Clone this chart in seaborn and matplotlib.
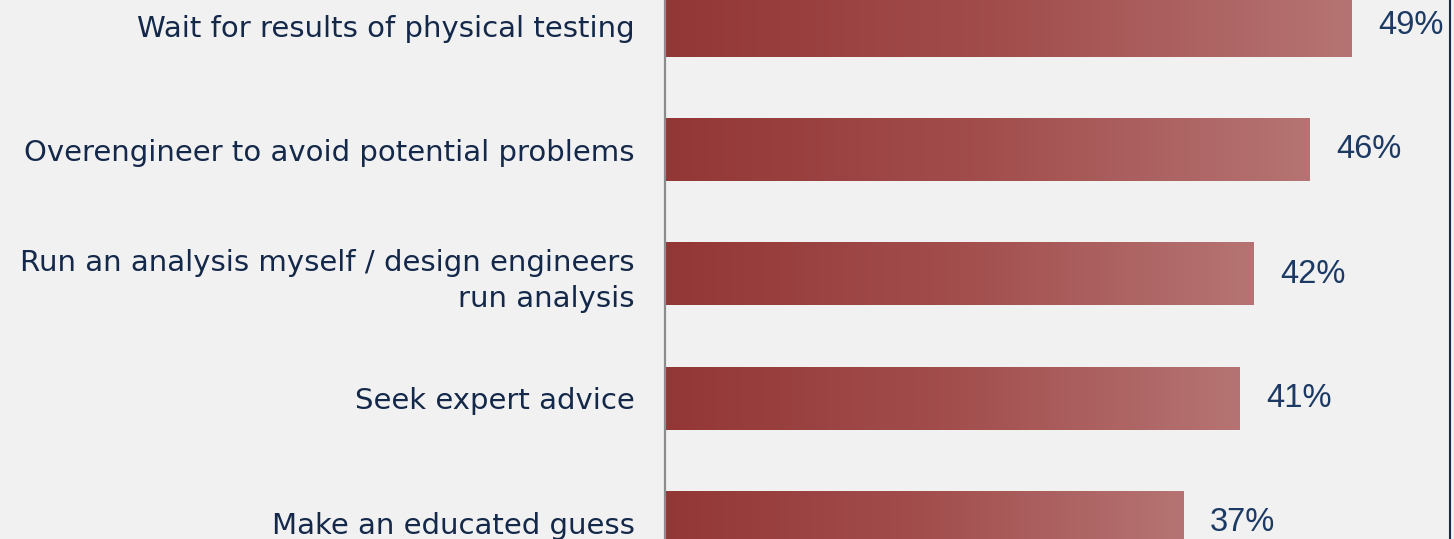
import numpy as np
import pandas as pd
import seaborn as sns
import matplotlib.pyplot as plt
from matplotlib.colors import LinearSegmentedColormap
from matplotlib.lines import Line2D

categories = [
    "Wait for results of physical testing",
    "Overengineer to avoid potential problems",
    "Run an analysis myself / design engineers\nrun analysis",
    "Seek expert advice",
    "Make an educated guess",
]
values = [49, 46, 42, 41, 37]
value_labels = ["49%", "46%", "42%", "41%", "37%"]

df = pd.DataFrame({"action": categories, "pct": values})

sns.set_style("white")
plt.rcParams["font.family"] = ["DejaVu Sans"]

bg = "#f1f1f1"
fig = plt.figure(figsize=(14.54, 5.39), dpi=100, facecolor=bg)
ax = fig.add_axes([665 / 1454, 0, 1 - 665 / 1454, 1])
ax.set_facecolor(bg)

sns.barplot(data=df, x="pct", y="action", orient="h", width=0.5,
            color="#a04a4a", ax=ax)

# fill each bar with a left-to-right red gradient
grad = LinearSegmentedColormap.from_list("bar", ["#933736", "#a24e4d", "#b57473"])
ramp = np.linspace(0, 1, 256).reshape(1, -1)
for patch, lab in zip(ax.patches, value_labels):
    x0, y0 = patch.get_x(), patch.get_y()
    w, h = patch.get_width(), patch.get_height()
    patch.set_visible(False)
    ax.imshow(ramp, cmap=grad, aspect="auto", extent=[x0, x0 + w, y0 + h, y0],
              zorder=2, interpolation="bilinear")
    ax.annotate(lab, (x0 + w, y0 + h / 2), xytext=(19, 0), textcoords="offset points",
                va="center", ha="left", fontsize=23.5, color="#1c3a64",
                family="Liberation Sans")

ax.set_xlim(0, (1454 - 665) / 14.02)
ax.set_ylim(4.131, -0.207)
ax.set_xlabel("")
ax.set_ylabel("")
ax.set_xticks([])
ax.tick_params(axis="y", length=0, pad=22)
for t in ax.get_yticklabels():
    t.set_fontsize(21)
    t.set_color("#14284a")
    t.set_multialignment("right")
    t.set_linespacing(1.35)
for s in ["top", "right", "bottom"]:
    ax.spines[s].set_visible(False)
ax.spines["left"].set_color("#8c8c8c")
ax.spines["left"].set_linewidth(1.6)

fig.add_artist(Line2D([1450 / 1454] * 2, [0, 1], color="#1b2a47", lw=1.5))

fig.savefig("out.png", dpi=100, facecolor=bg)
